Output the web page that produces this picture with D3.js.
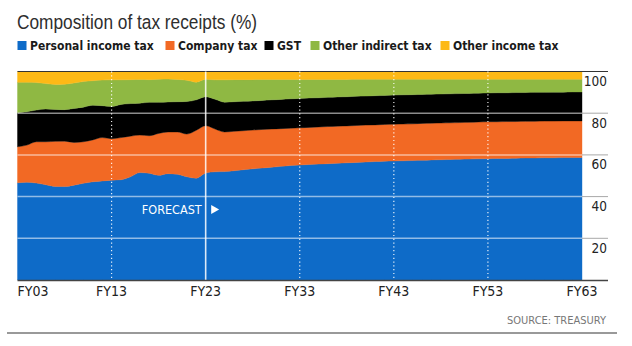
<!DOCTYPE html>
<html>
<head>
<meta charset="utf-8">
<script src="https://cdn.jsdelivr.net/npm/d3@7"></script>
<style>
  html, body { margin: 0; padding: 0; background: #fff; }
  svg { display: block; }
</style>
</head>
<body>
<svg id="chart" width="632" height="346"></svg>
<script>
// Fiscal years FY03 .. FY63 (actuals to FY23, forecast thereafter)
const fiscalYears = [
  2003,2004,2005,2006,2007,2008,2009,2010,2011,2012,
  2013,2014,2015,2016,2017,2018,2019,2020,2021,2022,
  2023,2024,2025,2026,2027,2028,2029,2030,2031,2032,
  2033,2034,2035,2036,2037,2038,2039,2040,2041,2042,
  2043,2044,2045,2046,2047,2048,2049,2050,2051,2052,
  2053,2054,2055,2056,2057,2058,2059,2060,2061,2062,
  2063
];

// Share of total tax receipts, per cent
const personal = [
  46.6,46.9,46.5,45.7,44.9,44.8,45.5,46.4,47.1,47.5,
  47.9,48.1,49.5,51.5,51.2,50.2,51.0,50.7,49.5,48.8,
  51.3,51.9,52.0,52.4,52.9,53.3,53.7,54.1,54.5,54.9,
  55.2,55.4,55.6,55.8,56.0,56.2,56.4,56.6,56.8,57.0,
  57.1,57.2,57.3,57.4,57.6,57.7,57.8,57.9,58.0,58.1,
  58.2,58.3,58.3,58.4,58.5,58.5,58.6,58.6,58.7,58.7,
  58.8
];
const company = [
  17.3,17.8,19.8,20.6,21.6,21.8,20.5,19.9,20.1,20.8,
  19.9,20.2,19.5,18.0,18.0,20.1,20.0,20.3,20.5,23.0,
  22.7,20.5,19.0,18.9,18.7,18.6,18.5,18.3,18.1,17.9,
  17.8,17.8,17.8,17.8,17.8,17.7,17.7,17.7,17.6,17.6,
  17.6,17.6,17.6,17.7,17.6,17.6,17.6,17.6,17.6,17.7,
  17.7,17.6,17.7,17.6,17.6,17.6,17.6,17.6,17.6,17.6,
  17.5
];
const gst = [
  16.3,16.0,15.2,15.7,15.3,15.1,16.3,16.6,16.6,15.3,
  15.4,15.9,15.6,15.3,16.0,14.9,14.4,14.5,15.6,14.6,
  13.9,14.3,14.3,14.2,14.1,14.0,13.9,14.0,14.0,14.1,
  14.1,14.1,14.0,14.0,14.0,14.0,14.0,13.9,14.0,13.9,
  14.0,14.0,14.0,13.9,13.9,13.9,13.9,13.9,13.9,13.8,
  13.8,13.9,13.8,13.9,13.8,13.9,13.8,13.9,13.8,13.9,
  13.9
];
const otherIndirect = [
  14.6,14.1,13.2,12.2,12.0,12.2,12.2,12.3,11.8,12.3,
  12.8,11.8,11.5,11.4,10.9,11.1,11.0,10.7,10.2,8.5,
  8.4,9.3,10.7,10.6,10.4,10.2,10.1,9.8,9.6,9.3,
  9.1,8.9,8.8,8.6,8.4,8.3,8.2,8.1,7.9,7.8,
  7.6,7.5,7.4,7.3,7.2,7.1,7.0,6.9,6.8,6.7,
  6.6,6.5,6.5,6.4,6.4,6.3,6.3,6.2,6.2,6.1,
  6.1
];
const otherIncome = [
  5.2,5.2,5.3,5.8,6.2,6.1,5.5,4.8,4.4,4.1,
  4.0,4.0,3.9,3.8,3.9,3.7,3.6,3.8,4.2,5.1,
  3.7,4.0,4.0,3.9,3.9,3.9,3.8,3.8,3.8,3.8,
  3.8,3.8,3.8,3.8,3.8,3.8,3.7,3.7,3.7,3.7,
  3.7,3.7,3.7,3.7,3.7,3.7,3.7,3.7,3.7,3.7,
  3.7,3.7,3.7,3.7,3.7,3.7,3.7,3.7,3.7,3.7,
  3.7
];

const seriesKeys   = ["personal", "company", "gst", "otherIndirect", "otherIncome"];
const seriesNames  = ["Personal income tax", "Company tax", "GST", "Other indirect tax", "Other income tax"];
const seriesColors = ["#0e6bc8", "#f26924", "#000000", "#8fb843", "#fdb916"];

const xTickYears  = [2003, 2013, 2023, 2033, 2043, 2053, 2063];
const xTickLabels = ["FY03", "FY13", "FY23", "FY33", "FY43", "FY53", "FY63"];
const yTicks = [20, 40, 60, 80, 100];
const forecastStart = 2023;

const condensed = "'DejaVu Sans Condensed', 'DejaVu Sans', sans-serif";

const svg = d3.select("#chart");
const plot = { left: 17.5, right: 582, top: 71.5, bottom: 280, axisEnd: 608 };

const x = d3.scaleLinear().domain([2003, 2063]).range([plot.left, plot.right]);
const y = d3.scaleLinear().domain([0, 100]).range([plot.bottom, plot.top]);

// Title, set in a narrow face
svg.append("text")
  .attr("x", 17).attr("y", 29)
  .attr("font-family", "'Liberation Sans', sans-serif")
  .attr("font-size", 20.5)
  .attr("textLength", 240)
  .attr("lengthAdjust", "spacingAndGlyphs")
  .attr("fill", "#2e2e2e")
  .text("Composition of tax receipts (%)");

// Legend: swatch + bold label for each series
const legendX = [17.5, 165.5, 264.5, 310.5, 440.5];
const legend = svg.append("g");
seriesNames.forEach((name, i) => {
  legend.append("rect")
    .attr("x", legendX[i]).attr("y", 41).attr("width", 9).attr("height", 9)
    .attr("fill", seriesColors[i]);
  legend.append("text")
    .attr("x", legendX[i] + 12.5).attr("y", 50)
    .attr("font-family", condensed)
    .attr("font-weight", "bold")
    .attr("font-size", 12)
    .attr("fill", "#1a1a1a")
    .text(name);
});

// Stacked areas
const rows = fiscalYears.map((yr, i) => ({
  year: yr,
  personal: personal[i],
  company: company[i],
  gst: gst[i],
  otherIndirect: otherIndirect[i],
  otherIncome: otherIncome[i]
}));
const stacked = d3.stack().keys(seriesKeys)(rows);

const area = d3.area()
  .x(d => x(d.data.year))
  .y0(d => y(d[0]))
  .y1(d => y(d[1]))
  .curve(d3.curveMonotoneX);

svg.append("g")
  .selectAll("path")
  .data(stacked)
  .join("path")
  .attr("d", area)
  .attr("fill", (d, i) => seriesColors[i])
  .attr("stroke", (d, i) => seriesColors[i])
  .attr("stroke-width", 0.4);

// Horizontal gridlines: translucent over the areas, grey beyond them
const grid = svg.append("g");
yTicks.filter(v => v < 100).forEach(v => {
  grid.append("line")
    .attr("x1", plot.left).attr("x2", plot.right)
    .attr("y1", y(v)).attr("y2", y(v))
    .attr("stroke", "#ffffff").attr("stroke-opacity", 0.55).attr("stroke-width", 1.5);
  grid.append("line")
    .attr("x1", plot.right).attr("x2", plot.axisEnd)
    .attr("y1", y(v)).attr("y2", y(v))
    .attr("stroke", "#a8a8a8").attr("stroke-width", 1);
});
grid.append("line")
  .attr("x1", plot.left).attr("x2", plot.axisEnd)
  .attr("y1", y(100)).attr("y2", y(100))
  .attr("stroke", "#333").attr("stroke-width", 1);

// Vertical decade markers (dotted) and the forecast divider (solid)
const vlines = svg.append("g");
xTickYears.slice(1, -1).forEach(yr => {
  const line = vlines.append("line")
    .attr("x1", x(yr)).attr("x2", x(yr))
    .attr("y1", y(100)).attr("y2", y(0))
    .attr("stroke", "#ffffff");
  if (yr === forecastStart) {
    line.attr("stroke-width", 1.6).attr("stroke-opacity", 0.85);
  } else {
    line.attr("stroke-width", 1.2).attr("stroke-dasharray", "1.2,2.6").attr("stroke-opacity", 0.9);
  }
});

// Bottom axis line
svg.append("line")
  .attr("x1", plot.left).attr("x2", plot.axisEnd)
  .attr("y1", y(0) + 0.5).attr("y2", y(0) + 0.5)
  .attr("stroke", "#444").attr("stroke-width", 1.5);

// Y labels (right side, under each gridline)
svg.append("g")
  .selectAll("text")
  .data(yTicks)
  .join("text")
  .attr("x", 607).attr("y", d => y(d) + 14.5)
  .attr("text-anchor", "end")
  .attr("font-family", condensed)
  .attr("font-size", 13.5)
  .attr("fill", "#222")
  .text(d => d);

// X labels
svg.append("g")
  .selectAll("text")
  .data(xTickYears)
  .join("text")
  .attr("x", d => x(d))
  .attr("y", 296)
  .attr("text-anchor", (d, i) => i === 0 ? "start" : "middle")
  .attr("font-family", condensed)
  .attr("font-size", 14)
  .attr("fill", "#222")
  .text((d, i) => xTickLabels[i]);

// Forecast marker
const fx = x(forecastStart);
svg.append("text")
  .attr("x", fx - 4).attr("y", 213.5)
  .attr("text-anchor", "end")
  .attr("font-family", condensed)
  .attr("font-size", 12.5)
  .attr("fill", "#ffffff")
  .text("FORECAST");
svg.append("path")
  .attr("d", `M${fx + 5.5},205 L${fx + 13.5},209.5 L${fx + 5.5},214 Z`)
  .attr("fill", "#ffffff");

// Source and bottom rule
svg.append("text")
  .attr("x", 606).attr("y", 324)
  .attr("text-anchor", "end")
  .attr("font-family", condensed)
  .attr("font-size", 11)
  .attr("fill", "#777")
  .text("SOURCE: TREASURY");
svg.append("line")
  .attr("x1", 7).attr("x2", 617)
  .attr("y1", 333).attr("y2", 333)
  .attr("stroke", "#999").attr("stroke-width", 2);
</script>
</body>
</html>
